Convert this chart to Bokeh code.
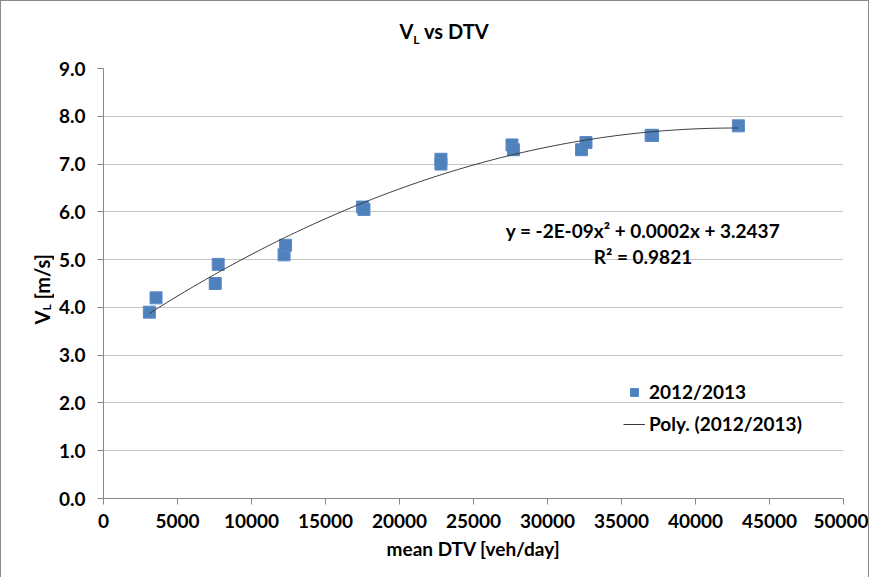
import numpy as np
from bokeh.plotting import figure
from bokeh.layouts import column, row
from bokeh.models import Label, Legend, LegendItem, FixedTicker, NumeralTickFormatter, Range1d, Div
from bokeh.embed import file_html
from bokeh.resources import INLINE

# ---- data ----
dtv = [3100, 3550, 7550, 7750, 12200, 12300, 17500, 17600, 22800, 22800,
       27600, 27700, 32300, 32600, 37000, 37100, 42900]
vl = [3.9, 4.2, 4.5, 4.9, 5.1, 5.3, 6.1, 6.05, 7.1, 7.0,
      7.4, 7.3, 7.3, 7.45, 7.6, 7.6, 7.8]
x_ticks = [0, 5000, 10000, 15000, 20000, 25000, 30000, 35000, 40000, 45000, 50000]
y_ticks = [0, 1, 2, 3, 4, 5, 6, 7, 8, 9]
series_name = "2012/2013"
trend_name = "Poly. (2012/2013)"
equation_text = "y = -2E-09x² + 0.0002x + 3.2437"
r2_text = "R² = 0.9821"
x_label = "mean DTV [veh/day]"
title_main, title_sub, title_rest = "V", "L", " vs DTV"
ylab_main, ylab_sub, ylab_rest = "V", "L", " [m/s]"

# polynomial trendline (order 2) fitted to the data
coef = np.polyfit(dtv, vl, 2)
fit_x = np.linspace(min(dtv), max(dtv), 200)
fit_y = np.polyval(coef, fit_x)

FONT = "Lato"
BLUE = "#4F81BD"
FS = "19px"

p = figure(width=813, height=521, output_backend="svg", toolbar_location=None,
           x_range=Range1d(0, 50000), y_range=Range1d(0, 9),
           min_border_left=48, min_border_right=25, min_border_top=17,
           min_border_bottom=74)
p.outline_line_color = None
p.xgrid.visible = False
p.ygrid.grid_line_color = "#C4C4C4"
p.ygrid.grid_line_width = 1

for ax in (p.xaxis[0], p.yaxis[0]):
    ax.axis_line_color = "#868686"
    ax.major_tick_line_color = "#868686"
    ax.minor_tick_line_color = None
    ax.major_tick_in = 0
    ax.major_tick_out = 6
    ax.major_label_text_font = FONT
    ax.major_label_text_font_style = "bold"
    ax.major_label_text_font_size = FS
    ax.major_label_text_color = "black"

p.xaxis.ticker = FixedTicker(ticks=x_ticks)
p.yaxis.ticker = FixedTicker(ticks=y_ticks)
p.yaxis.formatter = NumeralTickFormatter(format="0.0")
p.xaxis.major_label_standoff = 9
p.yaxis.major_label_standoff = 12
p.xaxis.axis_label = x_label
p.xaxis.axis_label_text_font = FONT
p.xaxis.axis_label_text_font_style = "bold"
p.xaxis.axis_label_text_font_size = FS
p.xaxis.axis_label_text_color = "black"
p.xaxis.axis_label_standoff = 6

sc = p.scatter(dtv, vl, marker="square", size=12, fill_color=BLUE,
               line_color="#5A8AC6", line_width=1)
ln = p.line(fit_x, fit_y, line_color="#3a3a3a", line_width=1)

# trendline equation (placed in data units inside the plot area)
p.add_layout(Label(x=36450, y=5.37, text=equation_text, text_font=FONT,
                   text_font_style="bold", text_font_size=FS, text_color="black",
                   text_align="center"))
p.add_layout(Label(x=36450, y=4.82, text=r2_text, text_font=FONT,
                   text_font_style="bold", text_font_size=FS, text_color="black",
                   text_align="center"))

legend = Legend(items=[LegendItem(label=series_name, renderers=[sc]),
                       LegendItem(label=trend_name, renderers=[ln])],
                location=(520, 63), border_line_color=None, background_fill_alpha=0,
                label_text_font=FONT, label_text_font_style="bold",
                label_text_font_size=FS, label_text_color="black",
                glyph_width=22, glyph_height=20, spacing=9, padding=0, margin=0,
                label_standoff=4)
p.add_layout(legend)

txt_style = ("font-family: Lato; font-weight: bold; color: black; "
             "font-size: 20px; line-height: 20px; white-space: nowrap;")
title_div = Div(
    text=(f'<div style="position:absolute; left:0; top:15px; width:857px; '
          f'text-align:center; padding-left:19px; box-sizing:border-box; {txt_style}">'
          f'{title_main}<sub style="font-size:12px;">{title_sub}</sub>{title_rest}</div>'),
    width=857, height=40)
ylab_div = Div(
    text=(f'<div style="position:absolute; left:26px; top:198px; '
          f'writing-mode: vertical-rl; transform: rotate(180deg); {txt_style}">'
          f'{ylab_main}<sub style="font-size:12px;">{ylab_sub}</sub>{ylab_rest}</div>'),
    width=44, height=521)

layout = column(title_div, row(ylab_div, p, spacing=0), spacing=0)
layout.styles = {"border-top": "1px solid #8a8a8a", "border-left": "1px solid #8a8a8a",
                 "border-right": "1px solid #8a8a8a"}
open("out.html", "w").write(file_html(layout, INLINE))
